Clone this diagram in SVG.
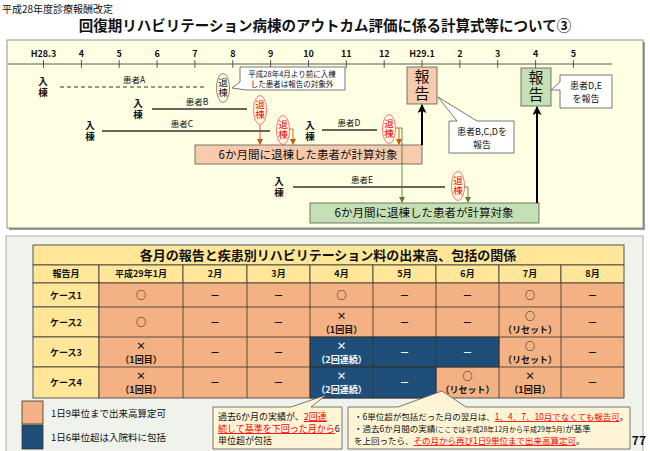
<svg xmlns="http://www.w3.org/2000/svg" width="650" height="451" viewBox="0 0 650 451">
<style>
text{font-family:"Noto Sans CJK JP","Noto Sans",sans-serif;fill:#111}
.b{font-weight:700}
.ax{font-size:9px;font-weight:700;text-anchor:middle}
.v{writing-mode:vertical-rl;text-anchor:middle}
.nyu{font-size:9.5px;font-weight:700;letter-spacing:1.5px}
.pl{font-size:8.5px;text-anchor:middle}
.tai{font-size:9.5px;letter-spacing:1px;fill:#FF0000}
.ovr{fill:none;stroke:#FF5050;stroke-width:0.8}
.ovk{fill:none;stroke:#666;stroke-width:0.8}
.stay{stroke:#333;stroke-width:1.3}
.rep{font-size:15px;letter-spacing:2px}
.ct{font-size:10px;font-weight:700;text-anchor:middle}
.cs{font-size:9px;font-weight:700;text-anchor:middle}
.w{fill:#fff}
.red{fill:#FF0000;text-decoration:underline}
.hd{fill:#FFE699;stroke:#333;stroke-width:0.8}
.or{fill:#F4B183;stroke:#333;stroke-width:0.8}
.bl{fill:#1F4E79;stroke:#333;stroke-width:0.8}
.co{fill:#fff;stroke:#555;stroke-width:0.8}
.cy{fill:#FFF5D6;stroke:#555;stroke-width:0.8}
</style>
<defs>
<marker id="mo" markerWidth="6" markerHeight="6" refX="5" refY="3" orient="auto" markerUnits="userSpaceOnUse"><path d="M0,0 L6,3 L0,6 Z" fill="#C55A11"/></marker>
<marker id="mg" markerWidth="6" markerHeight="6" refX="5" refY="3" orient="auto" markerUnits="userSpaceOnUse"><path d="M0,0 L6,3 L0,6 Z" fill="#548235"/></marker>
<marker id="mk" markerWidth="9" markerHeight="9" refX="8" refY="4.5" orient="auto" markerUnits="userSpaceOnUse"><path d="M0,0 L9,4.5 L0,9 L2,4.5 Z" fill="#000"/></marker>
</defs>
<rect width="650" height="451" fill="#fff"/>
<text x="2" y="13" style="font-size:10px">平成28年度診療報酬改定</text>
<text x="325" y="31" class="b" style="font-size:14.5px;text-anchor:middle">回復期リハビリテーション病棟のアウトカム評価に係る計算式等について③</text>

<g id="top-panel">
<rect x="9" y="42" width="636" height="188" fill="#999"/>
<rect x="7" y="40" width="636" height="188" fill="#FFFFE3" stroke="#777" stroke-width="0.8"/>
</g>

<g id="timeline">
<line x1="8" y1="64" x2="612" y2="64" stroke="#333" stroke-width="0.8"/>
<g stroke="#333" stroke-width="0.8">
<line x1="43.5" y1="60" x2="43.5" y2="68"/><line x1="81.4" y1="60" x2="81.4" y2="68"/><line x1="119.2" y1="60" x2="119.2" y2="68"/><line x1="157.1" y1="60" x2="157.1" y2="68"/><line x1="194.9" y1="60" x2="194.9" y2="68"/><line x1="232.8" y1="60" x2="232.8" y2="68"/><line x1="270.6" y1="60" x2="270.6" y2="68"/><line x1="308.5" y1="60" x2="308.5" y2="68"/><line x1="346.3" y1="60" x2="346.3" y2="68"/><line x1="384.2" y1="60" x2="384.2" y2="68"/><line x1="422" y1="60" x2="422" y2="68"/><line x1="459.9" y1="60" x2="459.9" y2="68"/><line x1="497.7" y1="60" x2="497.7" y2="68"/><line x1="535.6" y1="60" x2="535.6" y2="68"/><line x1="573.4" y1="60" x2="573.4" y2="68"/>
</g>
<text class="ax" x="43.5" y="57">H28.3</text><text class="ax" x="81.4" y="57">4</text><text class="ax" x="119.2" y="57">5</text><text class="ax" x="157.1" y="57">6</text><text class="ax" x="194.9" y="57">7</text><text class="ax" x="232.8" y="57">8</text><text class="ax" x="270.6" y="57">9</text><text class="ax" x="308.5" y="57">10</text><text class="ax" x="346.3" y="57">11</text><text class="ax" x="384.2" y="57">12</text><text class="ax" x="422" y="57">H29.1</text><text class="ax" x="459.9" y="57">2</text><text class="ax" x="497.7" y="57">3</text><text class="ax" x="535.6" y="57">4</text><text class="ax" x="573.4" y="57">5</text>
</g>

<g id="patient-A">
<text class="v nyu" x="43" y="88">入棟</text>
<line x1="60" y1="87" x2="205" y2="87" stroke="#333" stroke-width="1" stroke-dasharray="4,3"/>
<text class="pl" x="134" y="83">患者A</text>
<ellipse class="ovk" cx="223" cy="88" rx="6.5" ry="14.5"/>
<text class="v tai" x="223" y="88" style="fill:#111">退棟</text>
</g>
<g id="callout-A">
<path class="co" d="M240,67 H345 V90 H246 L232,88 L240,82 Z"/>
<text x="292" y="77" style="font-size:7.5px;text-anchor:middle">平成28年4月より前に入棟</text>
<text x="292" y="87" style="font-size:7.5px;text-anchor:middle">した患者は報告の対象外</text>
</g>

<g id="patient-B">
<text class="v nyu" x="138" y="110">入棟</text>
<line class="stay" x1="152" y1="109" x2="247" y2="109"/>
<text class="pl" x="197" y="105">患者B</text>
<ellipse class="ovr" cx="260" cy="110" rx="6.5" ry="14.5"/>
<text class="v tai" x="260" y="110">退棟</text>
</g>

<g id="patient-C">
<text class="v nyu" x="90" y="132">入棟</text>
<line class="stay" x1="102" y1="131" x2="270" y2="131"/>
<text class="pl" x="182" y="127">患者C</text>
<ellipse class="ovr" cx="283" cy="130" rx="6.5" ry="14.5"/>
<text class="v tai" x="283" y="130">退棟</text>
</g>

<g id="patient-D">
<text class="v nyu" x="310" y="132">入棟</text>
<line class="stay" x1="322" y1="130" x2="377" y2="130"/>
<text class="pl" x="349" y="126">患者D</text>
<ellipse class="ovr" cx="389" cy="129" rx="6.5" ry="14.5"/>
<text class="v tai" x="389" y="129">退棟</text>
</g>

<g id="patient-E">
<text class="v nyu" x="279" y="188">入棟</text>
<line class="stay" x1="293" y1="187" x2="445" y2="187"/>
<text class="pl" x="362" y="183">患者E</text>
<ellipse class="ovr" cx="458" cy="186" rx="6.5" ry="14.5"/>
<text class="v tai" x="458" y="186">退棟</text>
</g>

<g id="pink-target">
<rect x="195" y="145" width="227" height="19" fill="#F8CBAD" stroke="#555" stroke-width="0.8"/>
<text x="308" y="159" style="font-size:11.5px;text-anchor:middle">6か月間に退棟した患者が計算対象</text>
</g>

<g id="green-target">
<rect x="310" y="203" width="229" height="20" fill="#C5E0B4" stroke="#555" stroke-width="0.8"/>
<text x="424" y="217" style="font-size:11.5px;text-anchor:middle">6か月間に退棟した患者が計算対象</text>
</g>

<g id="report-pink">
<rect x="407" y="67" width="30" height="37" fill="#F8CBAD" stroke="#555" stroke-width="0.8"/>
<text class="v rep" x="422" y="86">報告</text>
</g>
<g id="report-green">
<rect x="521" y="68" width="30" height="38" fill="#C5E0B4" stroke="#555" stroke-width="0.8"/>
<text class="v rep" x="536" y="87">報告</text>
</g>

<g id="callout-BCD">
<path class="co" d="M449,121 H457 L438,97 L477,121 H514 V153 H449 Z"/>
<text x="482" y="135" style="font-size:9px;text-anchor:middle">患者B,C,Dを</text>
<text x="482" y="148" style="font-size:9px;text-anchor:middle">報告</text>
</g>
<g id="callout-DE">
<path class="co" d="M560,75 H612 V108 H560 V90 L551,90 L560,82 Z"/>
<text x="586" y="89" style="font-size:9px;text-anchor:middle">患者D,E</text>
<text x="586" y="102" style="font-size:9px;text-anchor:middle">を報告</text>
</g>

<g id="connectors" fill="none">
<line x1="260" y1="125" x2="260" y2="144" stroke="#C55A11" stroke-width="0.9" marker-end="url(#mo)"/>
<polyline points="289.5,129 293,129 293,144" stroke="#C55A11" stroke-width="0.9" marker-end="url(#mo)"/>
<polyline points="395.5,128 399,128 399,144" stroke="#C55A11" stroke-width="0.9" marker-end="url(#mo)"/>
<polyline points="399,128 402,128 402,202" stroke="#548235" stroke-width="0.9" marker-end="url(#mg)"/>
<polyline points="464.5,187 468,187 468,202" stroke="#548235" stroke-width="0.9" marker-end="url(#mg)"/>
<line x1="422" y1="145" x2="422" y2="105" stroke="#000" stroke-width="2" marker-end="url(#mk)"/>
<line x1="537" y1="203" x2="537" y2="107" stroke="#000" stroke-width="2" marker-end="url(#mk)"/>
</g>

<g id="bottom-panel">
<rect x="6" y="236" width="637" height="216" fill="#EFF3EC" stroke="#999" stroke-width="0.8"/>
</g>

<g id="table">
<rect class="hd" x="33" y="245" width="591" height="20"/>
<text x="328" y="260" class="b" style="font-size:13px;text-anchor:middle">各月の報告と疾患別リハビリテーション料の出来高、包括の関係</text>
<rect class="hd" x="33" y="265" width="66" height="18"/><rect class="hd" x="99" y="265" width="84" height="18"/><rect class="hd" x="183" y="265" width="64" height="18"/><rect class="hd" x="247" y="265" width="63" height="18"/><rect class="hd" x="310" y="265" width="63" height="18"/><rect class="hd" x="373" y="265" width="63" height="18"/><rect class="hd" x="436" y="265" width="63" height="18"/><rect class="hd" x="499" y="265" width="62" height="18"/><rect class="hd" x="561" y="265" width="63" height="18"/>
<text class="cs" x="66" y="277">報告月</text><text class="cs" x="141" y="277">平成29年1月</text><text class="cs" x="215" y="277">2月</text><text class="cs" x="278.5" y="277">3月</text><text class="cs" x="341.5" y="277">4月</text><text class="cs" x="404.5" y="277">5月</text><text class="cs" x="467.5" y="277">6月</text><text class="cs" x="530" y="277">7月</text><text class="cs" x="592.5" y="277">8月</text>

<rect class="hd" x="33" y="283" width="66" height="24"/><rect class="hd" x="33" y="307" width="66" height="30"/><rect class="hd" x="33" y="337" width="66" height="30"/><rect class="hd" x="33" y="367" width="66" height="31"/>
<text class="cs" x="66" y="299">ケース1</text><text class="cs" x="66" y="326">ケース2</text><text class="cs" x="66" y="356">ケース3</text><text class="cs" x="66" y="386">ケース4</text>

<rect class="or" x="99" y="283" width="525" height="115"/>
<rect class="bl" x="310" y="337" width="189" height="30"/>
<rect class="bl" x="310" y="367" width="126" height="31"/>
<g stroke="#333" stroke-width="0.8">
<line x1="99" y1="307" x2="624" y2="307"/><line x1="99" y1="337" x2="624" y2="337"/><line x1="99" y1="367" x2="624" y2="367"/>
<line x1="183" y1="283" x2="183" y2="398"/><line x1="247" y1="283" x2="247" y2="398"/><line x1="310" y1="283" x2="310" y2="398"/><line x1="373" y1="283" x2="373" y2="398"/><line x1="436" y1="283" x2="436" y2="398"/><line x1="499" y1="283" x2="499" y2="398"/><line x1="561" y1="283" x2="561" y2="398"/>
</g>

<text class="ct" x="141" y="299">○</text><text class="ct" x="215" y="299">－</text><text class="ct" x="278.5" y="299">－</text><text class="ct" x="341.5" y="299">○</text><text class="ct" x="404.5" y="299">－</text><text class="ct" x="467.5" y="299">－</text><text class="ct" x="530" y="299">○</text><text class="ct" x="592.5" y="299">－</text>

<text class="ct" x="141" y="326">○</text><text class="ct" x="215" y="326">－</text><text class="ct" x="278.5" y="326">－</text><text class="ct" x="341.5" y="320">×</text><text class="cs" x="341.5" y="333">（1回目）</text><text class="ct" x="404.5" y="326">－</text><text class="ct" x="467.5" y="326">－</text><text class="ct" x="530" y="320">○</text><text class="cs" x="530" y="333">（リセット）</text><text class="ct" x="592.5" y="326">－</text>

<text class="ct" x="141" y="350">×</text><text class="cs" x="141" y="363">（1回目）</text><text class="ct" x="215" y="356">－</text><text class="ct" x="278.5" y="356">－</text><text class="ct w" x="341.5" y="350">×</text><text class="cs w" x="341.5" y="363">（2回連続）</text><text class="ct w" x="404.5" y="356">－</text><text class="ct w" x="467.5" y="356">－</text><text class="ct" x="530" y="350">○</text><text class="cs" x="530" y="363">（リセット）</text><text class="ct" x="592.5" y="356">－</text>

<text class="ct" x="141" y="380">×</text><text class="cs" x="141" y="393">（1回目）</text><text class="ct" x="215" y="386">－</text><text class="ct" x="278.5" y="386">－</text><text class="ct w" x="341.5" y="380">×</text><text class="cs w" x="341.5" y="393">（2回連続）</text><text class="ct w" x="404.5" y="386">－</text><text class="ct" x="467.5" y="380">○</text><text class="cs" x="467.5" y="393">（リセット）</text><text class="ct" x="530" y="380">×</text><text class="cs" x="530" y="393">（1回目）</text><text class="ct" x="592.5" y="386">－</text>
</g>

<g id="legend">
<rect class="or" x="22" y="401" width="21" height="23"/>
<rect class="bl" x="22" y="425" width="21" height="24"/>
<text x="51" y="417" style="font-size:9.5px">1日9単位まで出来高算定可</text>
<text x="51" y="441" style="font-size:9.5px">1日6単位超は入院料に包括</text>
</g>

<g id="note-1">
<path class="cy" d="M213,407 H291 L326,395 L311,407 H342 V449 H213 Z"/>
<text x="218" y="420" style="font-size:9px">過去6か月の実績が、<tspan class="red">2回連</tspan></text>
<text x="218" y="432" style="font-size:9px"><tspan class="red">続して基準を下回った月から</tspan>6</text>
<text x="218" y="444" style="font-size:9px">単位超が包括</text>
</g>

<g id="note-2">
<path class="cy" d="M348,407 H398 L442,391 L466,407 H630 V449 H348 Z"/>
<text x="354" y="420" style="font-size:8.5px">・6単位超が包括だった月の翌月は、<tspan class="red">1、4、7、10月でなくても報告可</tspan>。</text>
<text x="354" y="432" style="font-size:8.5px">・過去6か月間の実績<tspan style="font-size:7px">(ここでは平成28年12月から平成29年5月)</tspan>が基準</text>
<text x="354" y="444" style="font-size:8.5px">を上回ったら、<tspan class="red">その月から再び1日9単位まで出来高算定可</tspan>。</text>
</g>

<text x="646" y="445" class="b" style="font-size:12px;text-anchor:end">77</text>
</svg>
